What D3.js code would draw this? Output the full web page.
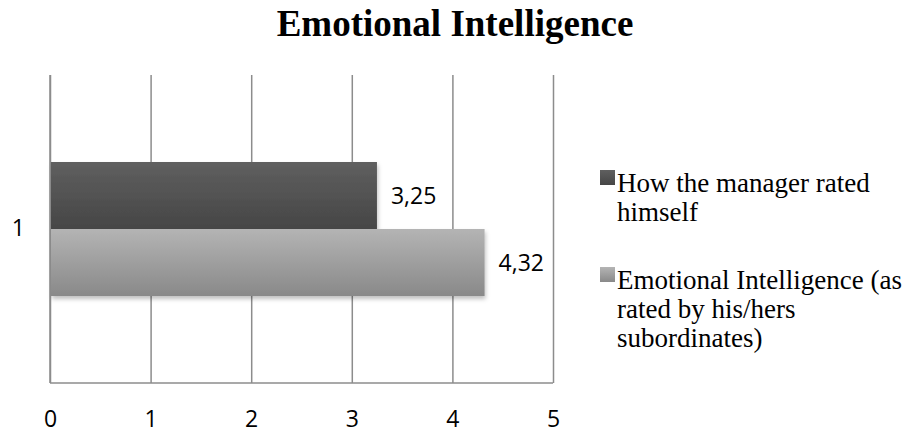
<!DOCTYPE html>
<html>
<head>
<meta charset="utf-8">
<script src="https://cdn.jsdelivr.net/npm/d3@7"></script>
<style>
  html, body { margin: 0; padding: 0; background: #fff; }
</style>
</head>
<body>
<div id="chart"></div>
<script>
// ── Data ──────────────────────────────────────────────────────────────────
const categories = ['1'];
const seriesNames = [
  'How the manager rated himself',
  'Emotional Intelligence (as rated by his/hers subordinates)'
];
const managerValues = [3.25];
const subordinateValues = [4.32];
const xTicks = [0, 1, 2, 3, 4, 5];
const legendLines = [
  ['How the manager rated', 'himself'],
  ['Emotional Intelligence (as', 'rated by his/hers', 'subordinates)']
];

const W = 904, H = 437;
const margin = { top: 75, left: 50 };
const innerW = 503, innerH = 308;

const svg = d3.select('#chart').append('svg')
  .attr('width', W).attr('height', H);

// Gradients + shadow
const defs = svg.append('defs');
function addGrad(id, top, bottom) {
  const g = defs.append('linearGradient').attr('id', id)
    .attr('x1', 0).attr('y1', 0).attr('x2', 0).attr('y2', 1);
  g.append('stop').attr('offset', '0%').attr('stop-color', top);
  g.append('stop').attr('offset', '100%').attr('stop-color', bottom);
}
addGrad('g-dark', '#5f5f5f', '#464646');
addGrad('g-light', '#b4b4b4', '#898989');
const f = defs.append('filter').attr('id', 'shadow')
  .attr('x', '-5%').attr('y', '-10%').attr('width', '115%').attr('height', '140%');
f.append('feDropShadow').attr('dx', 1).attr('dy', 3).attr('stdDeviation', 2)
  .attr('flood-color', '#000').attr('flood-opacity', 0.25);

const colors = ['url(#g-dark)', 'url(#g-light)'];
const serif = '"Liberation Serif", "Times New Roman", serif';
const labelFont = '"Open Sans", "Liberation Sans", sans-serif';

// Title
svg.append('text')
  .attr('x', 455).attr('y', 36)
  .attr('text-anchor', 'middle')
  .style('font-family', serif)
  .style('font-weight', 'bold')
  .style('font-size', '37px')
  .text('Emotional Intelligence');

const g = svg.append('g').attr('transform', `translate(${margin.left},${margin.top})`);

// ── Scales ────────────────────────────────────────────────────────────────
const x = d3.scaleLinear().domain([0, 5]).range([0, innerW]);
const y = d3.scaleBand().domain(categories).range([0, innerH]);
const ySub = d3.scaleBand().domain(d3.range(seriesNames.length))
  .range([y.bandwidth() / 2 - 67, y.bandwidth() / 2 + 67]);

// Gridlines
g.append('g')
  .call(d3.axisBottom(x).tickValues(xTicks).tickSize(innerH).tickFormat(''))
  .call(ax => ax.select('.domain').remove())
  .call(ax => ax.selectAll('line').attr('stroke', '#8c8c8c').attr('stroke-width', 1.5));

// Bottom border
g.append('line')
  .attr('x1', 0).attr('x2', innerW).attr('y1', innerH).attr('y2', innerH)
  .attr('stroke', '#8c8c8c').attr('stroke-width', 1.5);

// Bars + value labels
const seriesValues = [managerValues, subordinateValues];
seriesValues.forEach((vals, si) => {
  g.selectAll(null).data(categories).enter().append('rect')
    .attr('x', x(0) + 1)
    .attr('y', (c) => y(c) + ySub(si))
    .attr('width', (c, i) => x(vals[i]) - x(0) - 1)
    .attr('height', ySub.bandwidth())
    .attr('fill', colors[si])
    .attr('filter', 'url(#shadow)');
  g.selectAll(null).data(categories).enter().append('text')
    .attr('x', (c, i) => x(vals[i]) + 14)
    .attr('y', (c) => y(c) + ySub(si) + ySub.bandwidth() / 2 + 8)
    .style('font-family', labelFont)
    .style('font-size', '23px')
    .attr('fill', '#000')
    .text((c, i) => String(vals[i]).replace('.', ','));
});

// Left axis line (drawn over bars)
g.append('line')
  .attr('x1', 0).attr('x2', 0).attr('y1', 0).attr('y2', innerH)
  .attr('stroke', '#8c8c8c').attr('stroke-width', 1.5);

// Category labels
g.append('g')
  .call(d3.axisLeft(y).tickSize(0).tickPadding(25))
  .call(ax => ax.select('.domain').remove())
  .call(ax => ax.selectAll('text').attr('fill', '#000')
    .style('font-family', labelFont).style('font-size', '23px'));

// X axis labels
g.append('g')
  .attr('transform', `translate(0,${innerH})`)
  .call(d3.axisBottom(x).tickValues(xTicks).tickSize(0).tickPadding(28).tickFormat(d3.format('d')))
  .call(ax => ax.select('.domain').remove())
  .call(ax => ax.selectAll('text').attr('fill', '#000')
    .style('font-family', labelFont).style('font-size', '23px'));

// Legend
const legendBaselines = [192, 289];
const legend = svg.append('g');
legendLines.forEach((lines, i) => {
  legend.append('rect')
    .attr('x', 600).attr('y', legendBaselines[i] - 22)
    .attr('width', 15).attr('height', 15)
    .attr('fill', colors[i]);
  const t = legend.append('text')
    .attr('x', 617).attr('y', legendBaselines[i])
    .style('font-family', serif)
    .style('font-size', '27px')
    .attr('fill', '#000');
  lines.forEach((ln, j) => {
    t.append('tspan').attr('x', 617).attr('dy', j === 0 ? 0 : 29).text(ln);
  });
});
</script>
</body>
</html>
